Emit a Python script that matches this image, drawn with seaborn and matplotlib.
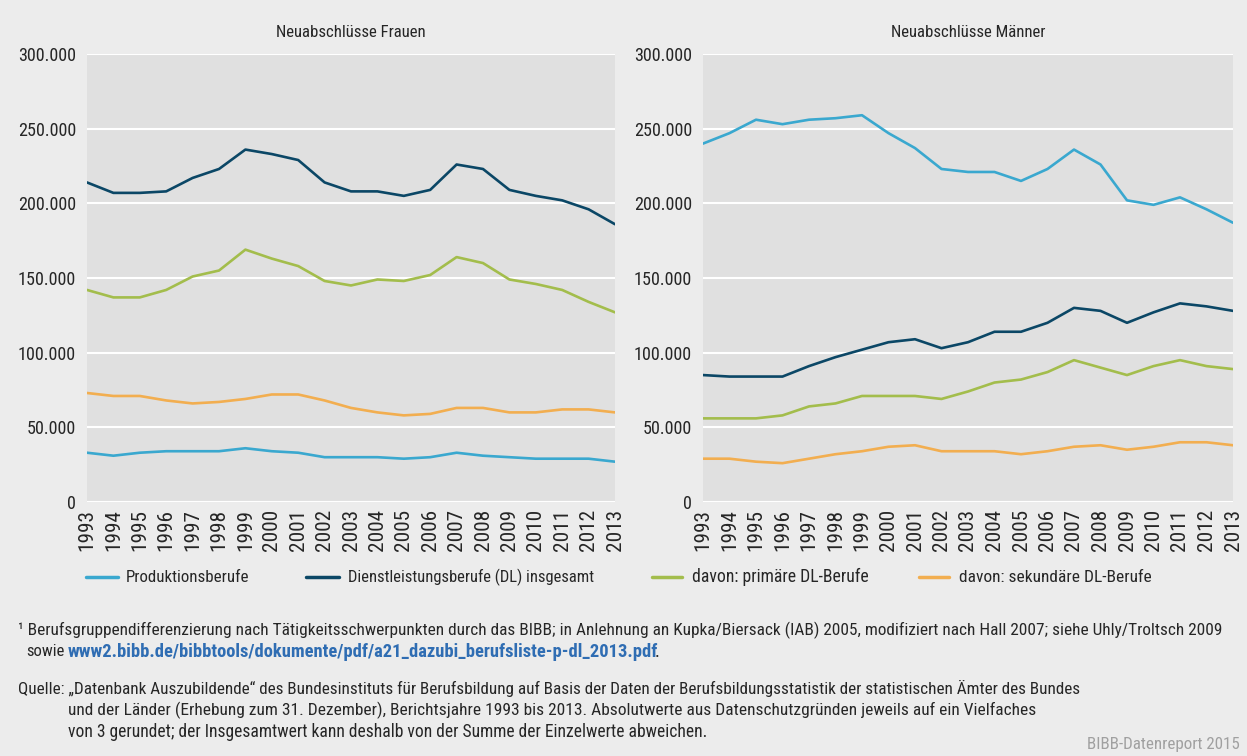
import seaborn as sns
import matplotlib.pyplot as plt
import matplotlib.ticker as mticker
from matplotlib.lines import Line2D
import pandas as pd

years = list(range(1993, 2014))

series_names = [
    "Produktionsberufe",
    "Dienstleistungsberufe (DL) insgesamt",
    "davon: primäre DL-Berufe",
    "davon: sekundäre DL-Berufe",
]

# Frauen (in Tausend)
frauen_prod = [33, 31, 33, 34, 34, 34, 36, 34, 33, 30, 30, 30, 29, 30, 33, 31, 30, 29, 29, 29, 27]
frauen_dl = [214, 207, 207, 208, 217, 223, 236, 233, 229, 214, 208, 208, 205, 209, 226, 223, 209, 205, 202, 196, 186]
frauen_prim = [142, 137, 137, 142, 151, 155, 169, 163, 158, 148, 145, 149, 148, 152, 164, 160, 149, 146, 142, 134, 127]
frauen_sek = [73, 71, 71, 68, 66, 67, 69, 72, 72, 68, 63, 60, 58, 59, 63, 63, 60, 60, 62, 62, 60]

# Männer (in Tausend)
maenner_prod = [240, 247, 256, 253, 256, 257, 259, 247, 237, 223, 221, 221, 215, 223, 236, 226, 202, 199, 204, 196, 187]
maenner_dl = [85, 84, 84, 84, 91, 97, 102, 107, 109, 103, 107, 114, 114, 120, 130, 128, 120, 127, 133, 131, 128]
maenner_prim = [56, 56, 56, 58, 64, 66, 71, 71, 71, 69, 74, 80, 82, 87, 95, 90, 85, 91, 95, 91, 89]
maenner_sek = [29, 29, 27, 26, 29, 32, 34, 37, 38, 34, 34, 34, 32, 34, 37, 38, 35, 37, 40, 40, 38]

colors = ["#3aa8cf", "#0b4766", "#a3bd4c", "#f2ae50"]
palette = dict(zip(series_names, colors))


def to_long(values_list):
    rows = []
    for name, vals in zip(series_names, values_list):
        for y, v in zip(years, vals):
            rows.append({"Jahr": y, "Wert": v * 1000, "Reihe": name})
    return pd.DataFrame(rows)


df_frauen = to_long([frauen_prod, frauen_dl, frauen_prim, frauen_sek])
df_maenner = to_long([maenner_prod, maenner_dl, maenner_prim, maenner_sek])

sns.set_style("white")
plt.rcParams["font.family"] = ["Roboto Condensed", "Liberation Sans Narrow", "Open Sans Condensed",
                               "Liberation Sans", "DejaVu Sans"]
plt.rcParams["font.stretch"] = "condensed"

fig = plt.figure(figsize=(12.47, 7.56), dpi=100, facecolor="#ececec")
W, H = 1247, 756
renderer = fig.canvas.get_renderer()


def fit_size(s, target_px, weight="normal"):
    # font size that makes the text s about target_px wide
    t = fig.text(0, 0, s, fontsize=10, fontweight=weight)
    w = t.get_window_extent(renderer).width
    t.remove()
    return 10 * target_px / w


def px_text(x, y, s, width, **kw):
    size = fit_size(s, width, kw.get("fontweight", "normal"))
    return fig.text(x / W, 1 - y / H, s, fontsize=size, va="center", **kw)


ytick_size = fit_size("300.000", 58)
xtick_size = fit_size("1993", 42)
title_size = fit_size("Neuabschlüsse Frauen", 150)


def add_panel(left, right, df, title):
    ax = fig.add_axes([left / W, 1 - 502 / H, (right - left) / W, (502 - 54) / H])
    ax.set_facecolor("#e0e0e0")
    sns.lineplot(data=df, x="Jahr", y="Wert", hue="Reihe", palette=palette,
                 linewidth=1.9, ax=ax, legend=False)
    ax.set_xlim(1993, 2013)
    ax.set_ylim(0, 300000)
    ax.set_xticks(years)
    ax.set_xticklabels([str(y) for y in years], rotation=90, fontsize=xtick_size)
    ax.set_yticks(range(0, 300001, 50000))
    ax.yaxis.set_major_formatter(
        mticker.FuncFormatter(lambda v, p: f"{int(v):,}".replace(",", "."))
    )
    ax.tick_params(axis="y", labelsize=ytick_size, length=0, pad=8)
    ax.tick_params(axis="x", length=0, pad=5)
    ax.grid(axis="y", color="white", linewidth=1.5)
    ax.set_axisbelow(True)
    for s in ax.spines.values():
        s.set_visible(False)
    ax.set_xlabel("")
    ax.set_ylabel("")
    ax.set_title(title, fontsize=title_size, pad=12)
    return ax


add_panel(87, 615, df_frauen, "Neuabschlüsse Frauen")
add_panel(703, 1233, df_maenner, "Neuabschlüsse Männer")

# legend, drawn by hand to keep the wide spacing of the original
leg_pos = [(86, 118, 126, 123), (306, 339, 348, 245), (652, 682, 692, 175), (919, 949, 959, 192)]
for (x0, x1, tx, tw), name, c in zip(leg_pos, series_names, colors):
    fig.add_artist(Line2D([x0 / W, x1 / W], [1 - 577 / H, 1 - 577 / H], color=c,
                          linewidth=2.5, transform=fig.transFigure))
    px_text(tx, 577, name, tw)

# footnotes
px_text(18, 630, "¹ Berufsgruppendifferenzierung nach Tätigkeitsschwerpunkten durch das BIBB; "
        "in Anlehnung an Kupka/Biersack (IAB) 2005, modifiziert nach Hall 2007; siehe Uhly/Troltsch 2009", 1195)
px_text(26, 652, "sowie", 38)
link = px_text(68, 652, "www2.bibb.de/bibbtools/dokumente/pdf/a21_dazubi_berufsliste-p-dl_2013.pdf", 590,
               color="#2f6db3", fontweight="bold")
link_end = link.get_window_extent(renderer).x1
fig.text((link_end - 4) / W, 1 - 652 / H, ".", fontsize=link.get_fontsize(), va="center")
px_text(18, 688, "Quelle: „Datenbank Auszubildende“ des Bundesinstituts für Berufsbildung auf Basis "
        "der Daten der Berufsbildungsstatistik der statistischen Ämter des Bundes", 1052)
px_text(68, 710, "und der Länder (Erhebung zum 31. Dezember), Berichtsjahre 1993 bis 2013. "
        "Absolutwerte aus Datenschutzgründen jeweils auf ein Vielfaches", 957)
px_text(68, 732, "von 3 gerundet; der Insgesamtwert kann deshalb von der Summe der Einzelwerte abweichen.", 635)
px_text(1087, 745, "BIBB-Datenreport 2015", 153, color="#a0a0a0")

fig.savefig("out.png", dpi=100, facecolor=fig.get_facecolor())
